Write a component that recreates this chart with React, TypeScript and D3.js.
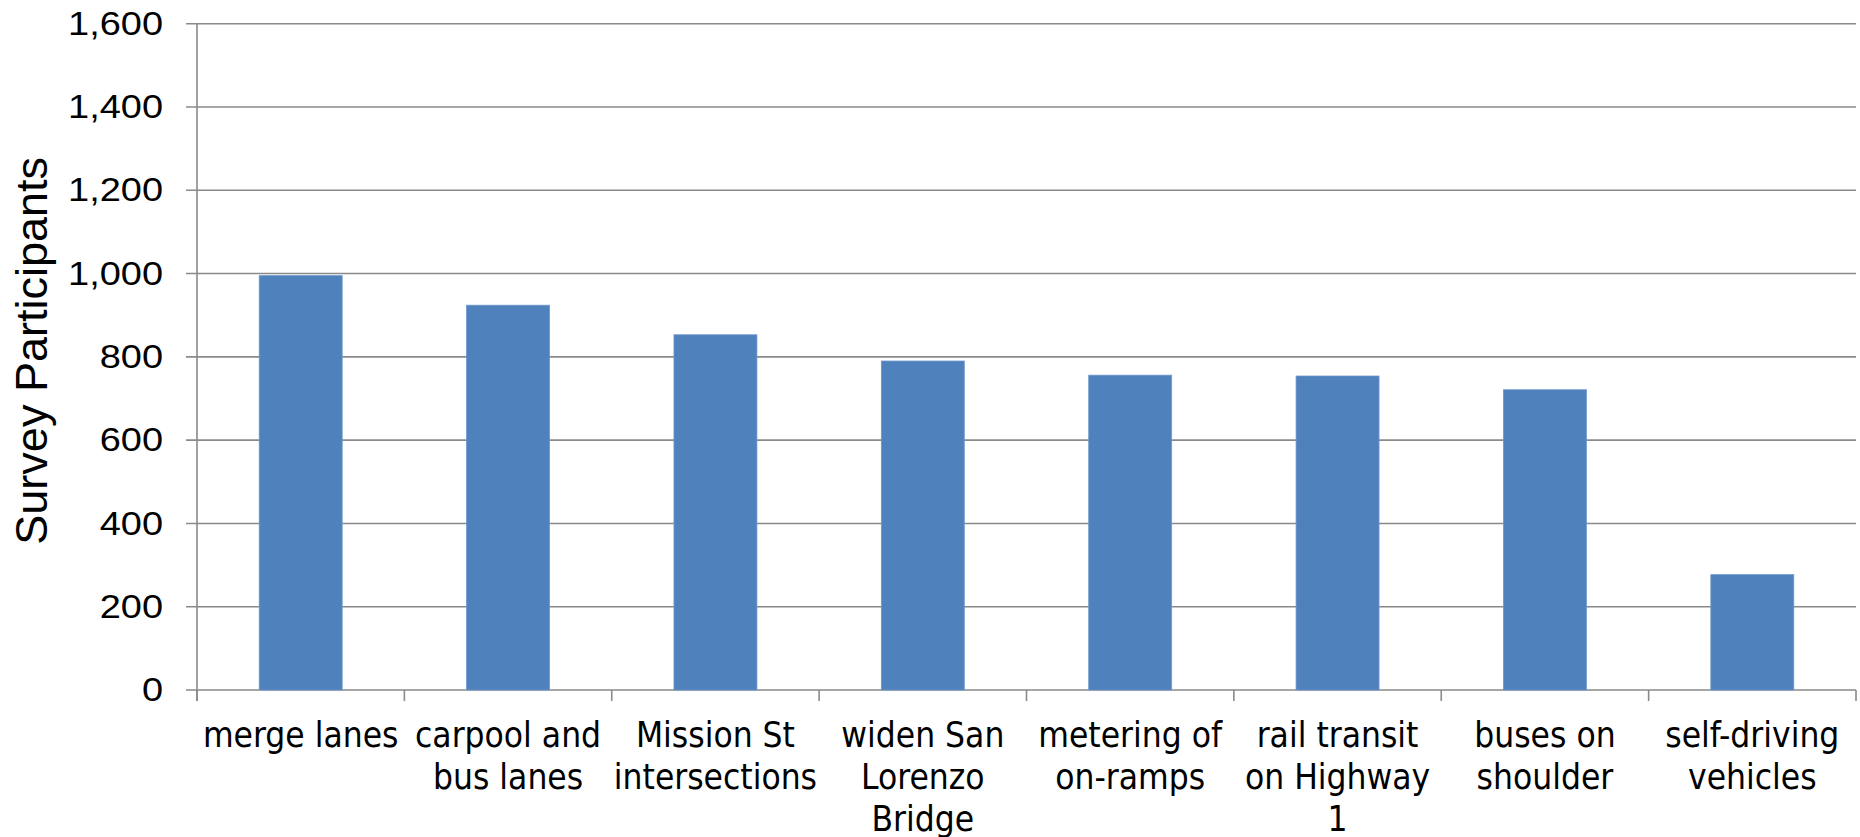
import React from "react";
import * as d3 from "d3";

const categories: string[][] = [
  ["merge lanes"],
  ["carpool and", "bus lanes"],
  ["Mission St", "intersections"],
  ["widen San", "Lorenzo", "Bridge"],
  ["metering of", "on-ramps"],
  ["rail transit", "on Highway", "1"],
  ["buses on", "shoulder"],
  ["self-driving", "vehicles"],
];
const values: number[] = [995, 924, 853, 790, 756, 754, 721, 277];
const yTicks: number[] = [0, 200, 400, 600, 800, 1000, 1200, 1400, 1600];
const yTitle = "Survey Participants";

const W = 1860;
const H = 837;
const M = { left: 197, right: 1856, top: 23.7, bottom: 690 };

export default function App() {
  const ids = categories.map((_, i) => String(i));
  const x = d3
    .scaleBand<string>()
    .domain(ids)
    .range([M.left, M.right])
    .paddingInner(0.6)
    .paddingOuter(0.3);
  const y = d3.scaleLinear().domain([0, 1600]).range([M.bottom, M.top]);
  const step = x.step();
  const fmt = d3.format(",");
  const grid = "#8a8a8a";

  return (
    <svg
      width={W}
      height={H}
      style={{ position: "absolute", left: 0, top: 0, background: "#fff" }}
    >
      {yTicks.map((t) => (
        <line
          key={"g" + t}
          x1={M.left - 11}
          x2={M.right}
          y1={y(t)}
          y2={y(t)}
          stroke={grid}
          strokeWidth={1.6}
        />
      ))}
      {values.map((v, i) => (
        <rect
          key={"b" + i}
          x={x(String(i))!}
          y={y(v)}
          width={x.bandwidth()}
          height={y(0) - y(v)}
          fill="#4F81BD"
          stroke="#6d97cc"
          strokeWidth={0.8}
        />
      ))}
      <line x1={M.left} x2={M.left} y1={M.top} y2={M.bottom + 11} stroke={grid} strokeWidth={1.6} />
      {d3.range(categories.length + 1).map((i) => (
        <line
          key={"t" + i}
          x1={M.left + i * step}
          x2={M.left + i * step}
          y1={M.bottom}
          y2={M.bottom + 11}
          stroke={grid}
          strokeWidth={1.6}
        />
      ))}
      {yTicks.map((t) => (
        <text
          key={"l" + t}
          transform={`translate(163,${y(t)}) scale(1.15,1)`}
          textAnchor="end"
          dominantBaseline="central"
          fontFamily="'Liberation Sans', Arial, sans-serif"
          fontSize={33}
          fill="#000"
        >
          {fmt(t)}
        </text>
      ))}
      {categories.map((lines, i) => (
        <text
          key={"c" + i}
          textAnchor="middle"
          fontFamily="'DejaVu Sans Condensed', 'DejaVu Sans', sans-serif"
          fontStretch="condensed"
          fontSize={35}
          fill="#000"
        >
          {lines.map((ln, j) => (
            <tspan key={j} x={x(String(i))! + x.bandwidth() / 2} y={747 + j * 42}>
              {ln}
            </tspan>
          ))}
        </text>
      ))}
      <text
        transform={`translate(47,${(M.top + M.bottom) / 2 - 6}) rotate(-90)`}
        textAnchor="middle"
        fontFamily="'Liberation Sans', Arial, sans-serif"
        fontSize={45}
        fill="#000"
      >
        {yTitle}
      </text>
    </svg>
  );
}
